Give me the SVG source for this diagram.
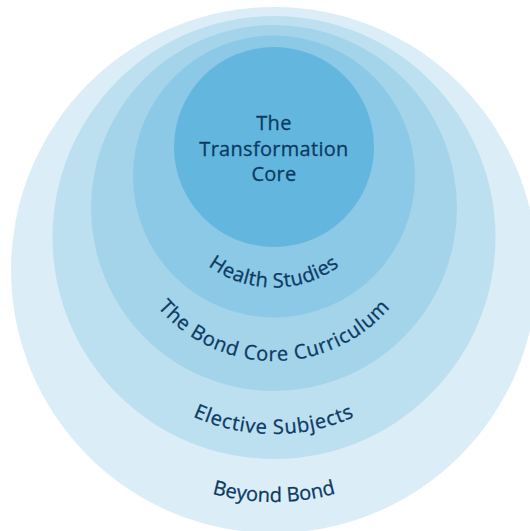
<svg xmlns="http://www.w3.org/2000/svg" width="530" height="531" viewBox="0 0 530 531">
<style>
.lbl{font-family:"Open Sans","Liberation Sans",sans-serif;font-size:20px;font-weight:500;fill:#0c3a63;stroke:#0c3a63;stroke-width:0.3px;}
</style>
<defs>
<path id="p-beyond" d="M42,270 A232,232 0 0 0 506,270"/>
<path id="p-elective" d="M77.5,237.5 A196.5,196.5 0 0 0 470.5,237.5"/>
<path id="p-bond" d="M121,208 A153,153 0 0 0 427,208"/>
<path id="p-health" d="M163,176.5 A111,111 0 0 0 385,176.5"/>
</defs>
<rect width="530" height="531" fill="#ffffff"/>
<g id="beyond-bond">
<circle cx="274" cy="270" r="263" fill="#dbeef8"/>
</g>
<g id="elective-subjects">
<circle cx="274" cy="237.5" r="221.5" fill="#bde0f1"/>
</g>
<g id="bond-core-curriculum">
<circle cx="274" cy="208" r="183" fill="#a3d4ea"/>
</g>
<g id="health-studies">
<circle cx="274" cy="176.5" r="141" fill="#8bc9e6"/>
</g>
<g id="transformation-core">
<circle cx="274" cy="147" r="100" fill="#63b7df"/>
<text class="lbl" text-anchor="middle" letter-spacing="0.3"><tspan x="274" y="130">The</tspan><tspan x="274" y="155.5">Transformation</tspan><tspan x="274" y="181">Core</tspan></text>
</g>
<g id="labels">
<text class="lbl" letter-spacing="0.4"><textPath href="#p-health" startOffset="50%" text-anchor="middle">Health Studies</textPath></text>
<text class="lbl" letter-spacing="0.7"><textPath href="#p-bond" startOffset="50%" text-anchor="middle">The Bond Core Curriculum</textPath></text>
<text class="lbl" letter-spacing="0.8"><textPath href="#p-elective" startOffset="50%" text-anchor="middle">Elective Subjects</textPath></text>
<text class="lbl" letter-spacing="0"><textPath href="#p-beyond" startOffset="50%" text-anchor="middle">Beyond Bond</textPath></text>
</g>
<g id="connectors"></g>
</svg>
